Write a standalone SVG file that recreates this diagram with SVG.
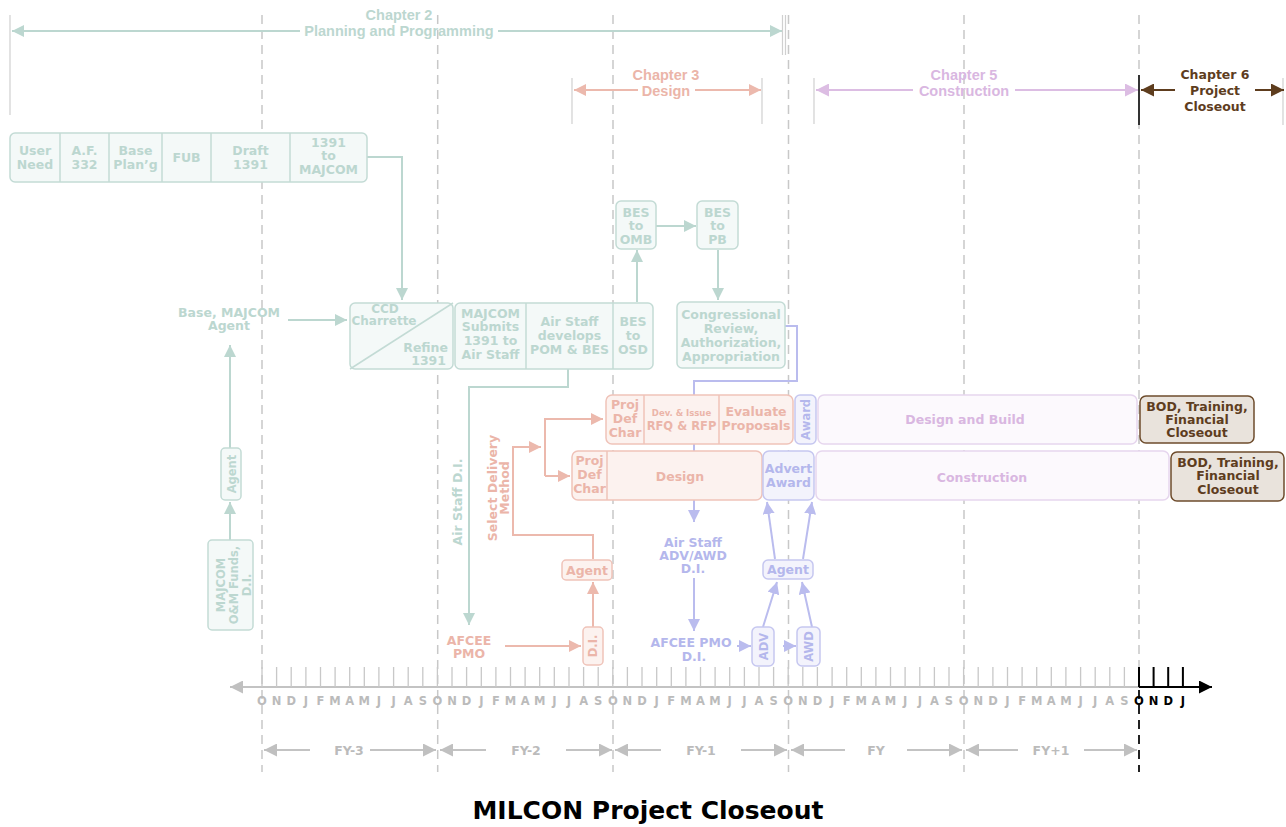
<svg xmlns="http://www.w3.org/2000/svg" width="1286" height="827" viewBox="0 0 1286 827">
<defs>
<style>
text{font-family:"DejaVu Sans","Liberation Sans",Arial,sans-serif;font-weight:bold;font-size:12.5px;text-anchor:middle}
.tt{fill:#bcd7d0}.pt{fill:#ebb5a9}.lt{fill:#b4b7ec}.vt{fill:#d9b7e1}.bt{fill:#5e3d1e}.gt{fill:#bbbbbb}
.tb{fill:#f4f9f8;stroke:#c3dbd5;stroke-width:1.5}
.pb{fill:#fcf2ef;stroke:#efc3b9;stroke-width:1.5}
.lb{fill:#f3f3fc;stroke:#c6c7f0;stroke-width:1.5}
.vb{fill:#fcf9fd;stroke:#e6d6ee;stroke-width:1.5}
.bb{fill:#e9e3dc;stroke:#6e4c2c;stroke-width:1.5}
.tl{fill:none;stroke:#bcd7d0;stroke-width:2}
.pl{fill:none;stroke:#ecb9ad;stroke-width:2}
.ll{fill:none;stroke:#babcee;stroke-width:2}
.vl{fill:none;stroke:#dcbde3;stroke-width:2}
.bl{fill:none;stroke:#5e3d1e;stroke-width:2}
.gl{fill:none;stroke:#c3c3c3;stroke-width:2}
.dash{fill:none;stroke:#c8c8c8;stroke-width:1.5;stroke-dasharray:9,6}
.ch{font-family:"Liberation Sans",Arial,sans-serif;font-size:14.5px}
.sm{font-size:11.5px}
.mo{font-size:11.5px}
</style>
<marker id="at" viewBox="0 0 12 12" refX="12" refY="6" markerWidth="12" markerHeight="12" markerUnits="userSpaceOnUse" orient="auto"><path d="M0,0L12,6L0,12z" fill="#bcd7d0"/></marker>
<marker id="ap" viewBox="0 0 12 12" refX="12" refY="6" markerWidth="12" markerHeight="12" markerUnits="userSpaceOnUse" orient="auto"><path d="M0,0L12,6L0,12z" fill="#ecb9ad"/></marker>
<marker id="al" viewBox="0 0 12 12" refX="12" refY="6" markerWidth="12" markerHeight="12" markerUnits="userSpaceOnUse" orient="auto"><path d="M0,0L12,6L0,12z" fill="#babcee"/></marker>
<marker id="av" viewBox="0 0 12 12" refX="12" refY="6" markerWidth="13" markerHeight="13" markerUnits="userSpaceOnUse" orient="auto"><path d="M0,0L12,6L0,12z" fill="#dcbde3"/></marker>
<marker id="ab" viewBox="0 0 12 12" refX="12" refY="6" markerWidth="13" markerHeight="13" markerUnits="userSpaceOnUse" orient="auto"><path d="M0,0L12,6L0,12z" fill="#5e3d1e"/></marker>
<marker id="ag" viewBox="0 0 12 12" refX="12" refY="6" markerWidth="15" markerHeight="13" markerUnits="userSpaceOnUse" orient="auto"><path d="M0,0L12,6L0,12z" fill="#c0c0c0"/></marker>
<marker id="ak" viewBox="0 0 12 12" refX="12" refY="6" markerWidth="15" markerHeight="13" markerUnits="userSpaceOnUse" orient="auto"><path d="M0,0L12,6L0,12z" fill="#000"/></marker>
</defs>
<rect width="1286" height="827" fill="#fff"/>

<g id="gridlines">
<path class="dash" d="M262,15V772M437.7,15V772M613,15V772M788.5,15V772M964,15V772M1139,15V687"/>
<path d="M1139,690V772" fill="none" stroke="#222" stroke-width="2" stroke-dasharray="9,6"/>
<path d="M10,15V115M782.5,15V55M785.5,15V55M572,78V124M762,78V124M814,78V124M1283,78V125" fill="none" stroke="#d0d0d0" stroke-width="1.2"/>
<path d="M1139,75V125" fill="none" stroke="#333" stroke-width="2"/>
</g>

<g id="chapters">
<text class="tt ch" x="399" y="20">Chapter 2</text>
<text class="tt ch" x="399" y="36">Planning and Programming</text>
<path class="tl" d="M300,31H12" marker-end="url(#at)"/>
<path class="tl" d="M498,31H782" marker-end="url(#at)"/>
<text class="pt ch" x="666" y="80">Chapter 3</text>
<text class="pt ch" x="666" y="96">Design</text>
<path class="pl" d="M638,90H574" marker-end="url(#ap)"/>
<path class="pl" d="M695,90H761" marker-end="url(#ap)"/>
<text class="vt ch" x="964" y="80">Chapter 5</text>
<text class="vt ch" x="964" y="96">Construction</text>
<path class="vl" d="M913,90H816" marker-end="url(#av)"/>
<path class="vl" d="M1015,90H1138" marker-end="url(#av)"/>
<text class="bt" x="1215" y="79">Chapter 6</text>
<text class="bt" x="1215" y="95">Project</text>
<text class="bt" x="1215" y="111">Closeout</text>
<path class="bl" d="M1175,90H1141" marker-end="url(#ab)"/>
<path class="bl" d="M1255,90H1284" marker-end="url(#ab)"/>
</g>

<g id="connectors">
<path class="tl" d="M367,157H402V300" marker-end="url(#at)"/>
<path class="tl" d="M288,320H347" marker-end="url(#at)"/>
<path class="tl" d="M230,448V345" marker-end="url(#at)"/>
<path class="tl" d="M230,540V502" marker-end="url(#at)"/>
<path class="tl" d="M637,302V250" marker-end="url(#at)"/>
<path class="tl" d="M656,226H696" marker-end="url(#at)"/>
<path class="tl" d="M718,250V300" marker-end="url(#at)"/>
<path class="tl" d="M568,369V387H469V625" marker-end="url(#at)"/>
<path class="ll" d="M785,326H797V381H694V522" marker-end="url(#al)"/>
<path class="ll" d="M694,578V631" marker-end="url(#al)"/>
<path class="ll" d="M737,646H751" marker-end="url(#al)"/>
<path class="ll" d="M783,646H796" marker-end="url(#al)"/>
<path class="ll" d="M763,627L777,582" marker-end="url(#al)"/>
<path class="ll" d="M812,627L802,582" marker-end="url(#al)"/>
<path class="ll" d="M775,559L767,502" marker-end="url(#al)"/>
<path class="ll" d="M803,559L812,502" marker-end="url(#al)"/>
<path class="pl" d="M505,646H581" marker-end="url(#ap)"/>
<path class="pl" d="M593,627V582" marker-end="url(#ap)"/>
<path class="pl" d="M593,559V535H513V447H541" marker-end="url(#ap)"/>
<path class="pl" d="M545,476V419H603" marker-end="url(#ap)"/>
<path class="pl" d="M545,476H570" marker-end="url(#ap)"/>
</g>

<g id="planning-steps">
<rect class="tb" x="10" y="133" width="357" height="49" rx="5"/>
<path d="M60,133V182M109,133V182M162,133V182M211,133V182M290,133V182" stroke="#c3dbd5" stroke-width="1.5"/>
<text class="tt" x="35" y="155">User</text><text class="tt" x="35" y="169">Need</text>
<text class="tt" x="84.5" y="155">A.F.</text><text class="tt" x="84.5" y="169">332</text>
<text class="tt" x="135.5" y="155">Base</text><text class="tt" x="135.5" y="169">Plan’g</text>
<text class="tt" x="186.5" y="162">FUB</text>
<text class="tt" x="250.5" y="155">Draft</text><text class="tt" x="250.5" y="169">1391</text>
<text class="tt" x="328.5" y="147">1391</text><text class="tt" x="328.5" y="160">to</text><text class="tt" x="328.5" y="174">MAJCOM</text>
</g>

<g id="base-majcom-agent">
<text class="tt" x="229" y="317">Base, MAJCOM</text>
<text class="tt" x="229" y="330">Agent</text>
</g>

<g id="ccd-charrette">
<rect class="tb" x="350" y="303" width="103" height="66" rx="5"/>
<path d="M350,369L453,303" stroke="#c3dbd5" stroke-width="1.5"/>
<text class="tt" x="385" y="313" style="font-size:12px">CCD</text>
<text class="tt" x="384" y="325" style="font-size:12px">Charrette</text>
<text class="tt" x="448" y="352" style="text-anchor:end">Refine</text>
<text class="tt" x="446" y="365" style="text-anchor:end">1391</text>
</g>

<g id="majcom-submits">
<rect class="tb" x="455" y="303" width="198" height="66" rx="5"/>
<path d="M526,303V369M613,303V369" stroke="#c3dbd5" stroke-width="1.5"/>
<text class="tt" x="490.5" y="318">MAJCOM</text><text class="tt" x="490.5" y="331">Submits</text><text class="tt" x="490.5" y="345">1391 to</text><text class="tt" x="490.5" y="359">Air Staff</text>
<text class="tt" x="569.5" y="326">Air Staff</text><text class="tt" x="569.5" y="340">develops</text><text class="tt" x="569.5" y="354">POM &amp; BES</text>
<text class="tt" x="633" y="326">BES</text><text class="tt" x="633" y="340">to</text><text class="tt" x="633" y="354">OSD</text>
</g>

<g id="bes-omb">
<rect class="tb" x="616" y="201" width="40" height="48" rx="5"/>
<text class="tt" x="636" y="217">BES</text><text class="tt" x="636" y="230">to</text><text class="tt" x="636" y="244">OMB</text>
</g>
<g id="bes-pb">
<rect class="tb" x="697" y="201" width="41" height="48" rx="5"/>
<text class="tt" x="717.5" y="217">BES</text><text class="tt" x="717.5" y="230">to</text><text class="tt" x="717.5" y="244">PB</text>
</g>
<g id="congressional">
<rect class="tb" x="677" y="302" width="108" height="66" rx="5"/>
<text class="tt" x="731" y="319">Congressional</text><text class="tt" x="731" y="333">Review,</text><text class="tt" x="731" y="347">Authorization,</text><text class="tt" x="731" y="361">Appropriation</text>
</g>

<g id="teal-agent">
<rect class="tb" x="221" y="448" width="20" height="52" rx="4"/>
<text class="tt sm" transform="translate(235.5,474) rotate(-90)">Agent</text>
</g>
<g id="majcom-om-funds">
<rect class="tb" x="208" y="540" width="45" height="90" rx="4"/>
<g transform="translate(230.5,585) rotate(-90)">
<text class="tt sm" x="0" y="-6">MAJCOM</text><text class="tt sm" x="0" y="7">O&amp;M Funds,</text><text class="tt sm" x="0" y="20">D.I.</text>
</g>
</g>
<g id="air-staff-di">
<text class="tt" transform="translate(462,502) rotate(-90)">Air Staff D.I.</text>
</g>

<g id="select-delivery">
<g transform="translate(497,488) rotate(-90)">
<text class="pt" x="0" y="0">Select Delivery</text><text class="pt" x="0" y="12">Method</text>
</g>
</g>
<g id="afcee-pmo">
<text class="pt" x="469" y="645">AFCEE</text><text class="pt" x="469" y="658">PMO</text>
</g>
<g id="pink-di">
<rect class="pb" x="583" y="627" width="20" height="38" rx="4"/>
<text class="pt sm" transform="translate(597,646) rotate(-90)">D.I.</text>
</g>
<g id="pink-agent">
<rect class="pb" x="562" y="560" width="50" height="20" rx="4"/>
<text class="pt" x="587" y="574.5">Agent</text>
</g>

<g id="design-build-design">
<rect class="pb" x="606" y="395" width="187" height="49" rx="6"/>
<path d="M644,395V444M719,395V444" stroke="#efc3b9" stroke-width="1.5"/>
<text class="pt" x="625" y="409">Proj</text><text class="pt" x="625" y="423">Def</text><text class="pt" x="625" y="437">Char</text>
<text class="pt" x="681.5" y="416" style="font-size:8.5px">Dev. &amp; Issue</text>
<text class="pt" x="681.5" y="430" style="font-size:11.5px">RFQ &amp; RFP</text>
<text class="pt" x="756" y="416">Evaluate</text><text class="pt" x="756" y="430">Proposals</text>
</g>
<g id="award">
<rect class="lb" x="795" y="395" width="21" height="49" rx="5"/>
<text class="lt sm" transform="translate(810,419.5) rotate(-90)">Award</text>
</g>
<g id="design-and-build">
<rect class="vb" x="818" y="395" width="319" height="49" rx="6"/>
<text class="vt" x="965" y="424">Design and Build</text>
</g>
<g id="bod-1">
<rect class="bb" x="1140" y="396" width="114" height="47" rx="6"/>
<text class="bt" x="1197" y="411">BOD, Training,</text><text class="bt" x="1197" y="424">Financial</text><text class="bt" x="1197" y="437">Closeout</text>
</g>

<g id="design">
<rect class="pb" x="572" y="451" width="190" height="49" rx="6"/>
<path d="M607,451V500" stroke="#efc3b9" stroke-width="1.5"/>
<text class="pt" x="589.5" y="465">Proj</text><text class="pt" x="589.5" y="479">Def</text><text class="pt" x="589.5" y="493">Char</text>
<text class="pt" x="680" y="481">Design</text>
</g>
<g id="advert-award">
<rect class="lb" x="763" y="451" width="51" height="49" rx="6"/>
<text class="lt" x="788.5" y="473">Advert</text><text class="lt" x="788.5" y="487">Award</text>
</g>
<g id="construction">
<rect class="vb" x="816" y="451" width="353" height="49" rx="6"/>
<text class="vt" x="982" y="482">Construction</text>
</g>
<g id="bod-2">
<rect class="bb" x="1171" y="452" width="113" height="49" rx="6"/>
<text class="bt" x="1228" y="467">BOD, Training,</text><text class="bt" x="1228" y="480">Financial</text><text class="bt" x="1228" y="494">Closeout</text>
</g>

<g id="air-staff-adv-awd">
<text class="lt" x="693" y="547">Air Staff</text><text class="lt" x="693" y="560">ADV/AWD</text><text class="lt" x="693" y="573">D.I.</text>
</g>
<g id="afcee-pmo-di">
<text class="lt" x="691" y="647">AFCEE PMO</text><text class="lt" x="694" y="661">D.I.</text>
</g>
<g id="adv">
<rect class="lb" x="752" y="627" width="22" height="39" rx="5"/>
<text class="lt sm" transform="translate(767.5,646.5) rotate(-90)">ADV</text>
</g>
<g id="awd">
<rect class="lb" x="797" y="627" width="23" height="39" rx="5"/>
<text class="lt sm" transform="translate(813,646.5) rotate(-90)">AWD</text>
</g>
<g id="lav-agent">
<rect class="lb" x="763" y="560" width="50" height="19" rx="5"/>
<text class="lt" x="788" y="574">Agent</text>
</g>

<g id="timeline">
<path class="gl" d="M1139,687H230" marker-end="url(#ag)"/>
<path d="M1139,687H1212" fill="none" stroke="#000" stroke-width="2" marker-end="url(#ak)"/>
<path d="M262,667V687M276.6,667V687M291.2,667V687M305.9,667V687M320.5,667V687M335.1,667V687M349.7,667V687M364.3,667V687M378.9,667V687M393.6,667V687M408.2,667V687M422.8,667V687M437.4,667V687M452,667V687M466.6,667V687M481.3,667V687M495.9,667V687M510.5,667V687M525.1,667V687M539.7,667V687M554.3,667V687M569,667V687M583.6,667V687M598.2,667V687M612.8,667V687M627.4,667V687M642,667V687M656.7,667V687M671.3,667V687M685.9,667V687M700.5,667V687M715.1,667V687M729.7,667V687M744.4,667V687M759,667V687M773.6,667V687M788.2,667V687M802.8,667V687M817.4,667V687M832.1,667V687M846.7,667V687M861.3,667V687M875.9,667V687M890.5,667V687M905.1,667V687M919.8,667V687M934.4,667V687M949,667V687M963.6,667V687M978.2,667V687M992.9,667V687M1007.5,667V687M1022.1,667V687M1036.7,667V687M1051.3,667V687M1065.9,667V687M1080.6,667V687M1095.2,667V687M1109.8,667V687M1124.4,667V687" fill="none" stroke="#c8c8c8" stroke-width="1.3"/>
<path d="M1139,667V687M1153.6,667V687M1168.2,667V687M1182.9,667V687" fill="none" stroke="#000" stroke-width="2"/>
<text class="gt mo" x="262 276.6 291.2 305.9 320.5 335.1 349.7 364.3 378.9 393.6 408.2 422.8 437.4 452 466.6 481.3 495.9 510.5 525.1 539.7 554.3 569 583.6 598.2 612.8 627.4 642 656.7 671.3 685.9 700.5 715.1 729.7 744.4 759 773.6 788.2 802.8 817.4 832.1 846.7 861.3 875.9 890.5 905.1 919.8 934.4 949 963.6 978.2 992.9 1007.5 1022.1 1036.7 1051.3 1065.9 1080.6 1095.2 1109.8 1124.4" y="705">ONDJFMAMJJASONDJFMAMJJASONDJFMAMJJASONDJFMAMJJASONDJFMAMJJAS</text>
<text class="mo" x="1139 1153.6 1168.2 1182.9" y="705" fill="#000">ONDJ</text>
</g>

<g id="fiscal-years">
<path class="gl" d="M310,750H264" marker-end="url(#ag)"/><path class="gl" d="M370,750H436" marker-end="url(#ag)"/>
<text class="gt" x="349" y="755">FY-3</text>
<path class="gl" d="M486,750H440" marker-end="url(#ag)"/><path class="gl" d="M566,750H612" marker-end="url(#ag)"/>
<text class="gt" x="526" y="755">FY-2</text>
<path class="gl" d="M661,750H615" marker-end="url(#ag)"/><path class="gl" d="M741,750H787" marker-end="url(#ag)"/>
<text class="gt" x="701" y="755">FY-1</text>
<path class="gl" d="M845,750H791" marker-end="url(#ag)"/><path class="gl" d="M907,750H962" marker-end="url(#ag)"/>
<text class="gt" x="876" y="755">FY</text>
<path class="gl" d="M1018,750H966" marker-end="url(#ag)"/><path class="gl" d="M1084,750H1137" marker-end="url(#ag)"/>
<text class="gt" x="1051" y="755">FY+1</text>
</g>

<text x="648" y="819" style="font-size:25px;fill:#000">MILCON Project Closeout</text>
</svg>
